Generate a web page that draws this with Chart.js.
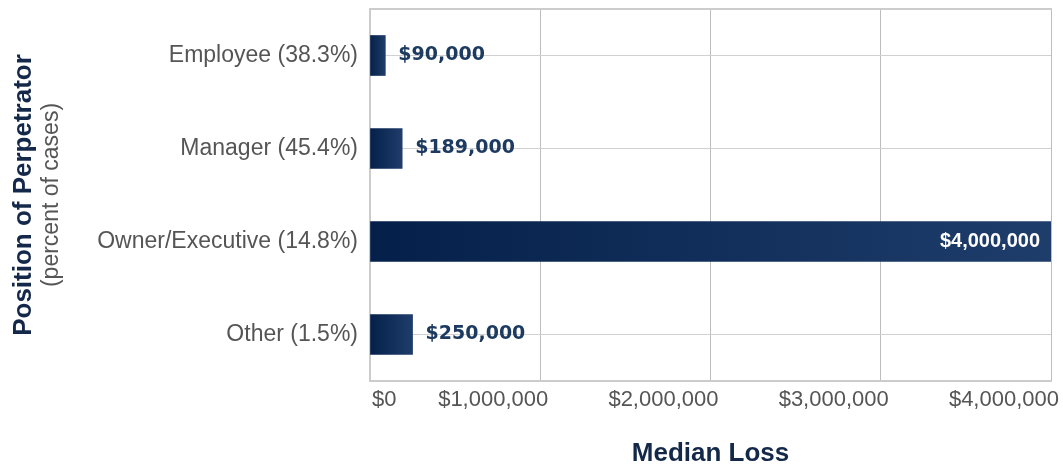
<!DOCTYPE html>
<html>
<head>
<meta charset="utf-8">
<script src="https://cdn.jsdelivr.net/npm/chart.js"></script>
<style>
  html, body { margin: 0; padding: 0; background: #fff; }
  #wrap { width: 1063px; height: 464px; position: relative; }
</style>
</head>
<body>
<div id="wrap"><canvas id="lossChart"></canvas></div>
<script>
// --- PODATKI ---
const categories = ['Employee (38.3%)', 'Manager (45.4%)', 'Owner/Executive (14.8%)', 'Other (1.5%)'];
const medianLoss = [90000, 189000, 4000000, 250000];
const xTickValues = [0, 1000000, 2000000, 3000000, 4000000];

const fmtMoney = v => '$' + Number(v).toLocaleString('en-US');

const NAVY = '#14294a';
const GRAY = '#555555';
const SANS = "'Liberation Sans', Arial, sans-serif";

// gradient od osnove stolpca do njegovega konca
function barGradient(ctx) {
    const chart = ctx.chart;
    if (!chart.chartArea || ctx.raw === undefined) return '#0f2c57';
    const xs = chart.scales.x;
    const x0 = xs.getPixelForValue(0);
    const x1 = Math.max(xs.getPixelForValue(ctx.raw), x0 + 1);
    const g = chart.ctx.createLinearGradient(x0, 0, x1, 0);
    g.addColorStop(0, '#04204a');
    g.addColorStop(1, '#1f3d6b');
    return g;
}

// prva oznaka na osi x ($0) je poravnana levo ob osi
const firstTickLeft = {
    id: 'firstTickLeft',
    beforeDraw(chart) {
        const xs = chart.scales.x;
        const items = xs.getLabelItems();
        if (items.length) {
            items[0].options.textAlign = 'left';
            items[0].options.translation = [xs.getPixelForValue(xTickValues[0]) + 2, items[0].options.translation[1]];
        }
    }
};

// oznake vrednosti ob stolpcih
const valueLabels = {
    id: 'valueLabels',
    afterDatasetsDraw(chart) {
        const c = chart.ctx;
        const meta = chart.getDatasetMeta(0);
        c.save();
        c.textBaseline = 'middle';
        meta.data.forEach((bar, i) => {
            const text = fmtMoney(medianLoss[i]);
            const w = bar.x - bar.base;
            if (w > 300) {
                c.font = "bold 20px 'Liberation Sans', Arial, sans-serif";
                c.fillStyle = '#ffffff';
                c.textAlign = 'right';
                c.fillText(text, bar.x - 11, bar.y);
            } else {
                c.font = "bold 19px 'DejaVu Sans', Verdana, sans-serif";
                c.fillStyle = '#1d3a60';
                c.textAlign = 'left';
                c.fillText(text, bar.x + 13, bar.y);
            }
        });
        c.restore();
    }
};

new Chart(document.getElementById('lossChart'), {
    type: 'bar',
    data: {
        labels: categories,
        datasets: [{
            data: medianLoss,
            backgroundColor: barGradient,
            borderWidth: 0,
            barThickness: 40
        }]
    },
    options: {
        indexAxis: 'y',
        responsive: true,
        maintainAspectRatio: false,
        animation: false,
        layout: { padding: { top: 9, right: 12, left: 0, bottom: 0 } },
        plugins: {
            legend: { display: false },
            tooltip: { enabled: false }
        },
        scales: {
            x: {
                type: 'linear',
                min: 0,
                max: 4000000,
                afterBuildTicks: s => { s.ticks = xTickValues.map(v => ({ value: v })); },
                afterFit: s => { s.height = 83; s.paddingLeft = 0; s.paddingRight = 0; },
                grid: { color: '#bdbdbd', lineWidth: 1, drawTicks: false },
                border: { display: true, color: '#cccccc', width: 2 },
                ticks: {
                    align: 'end',
                    labelOffset: 8,
                    padding: 6,
                    color: GRAY,
                    font: { family: SANS, size: 22 },
                    callback: v => fmtMoney(v)
                },
                title: {
                    display: true,
                    text: 'Median Loss',
                    color: NAVY,
                    font: { family: SANS, size: 26, weight: 'bold', lineHeight: 1.2 },
                    padding: { top: 0, bottom: -5 }
                }
            },
            xTop: {
                type: 'linear',
                position: 'top',
                min: 0,
                max: 4000000,
                afterFit: s => { s.height = 0; s.paddingLeft = 0; s.paddingRight = 0; },
                grid: { display: false, drawTicks: false },
                ticks: { display: false },
                border: { display: true, color: '#cccccc', width: 2 }
            },
            y: {
                type: 'category',
                position: 'left',
                weight: 0,
                afterFit: s => { s.width = 330; s.paddingTop = 0; s.paddingBottom = 0; },
                grid: { color: '#d0d0d0', offset: false, drawTicks: false },
                border: { display: true, color: '#cccccc', width: 2 },
                ticks: {
                    padding: 12,
                    color: GRAY,
                    font: { family: SANS, size: 23 }
                },
                title: {
                    display: true,
                    text: '(percent of cases)',
                    color: GRAY,
                    font: { family: SANS, size: 23, lineHeight: 1 },
                    padding: { top: 0, bottom: 0 }
                }
            },
            yTitle: {
                type: 'category',
                position: 'left',
                weight: 1,
                labels: categories,
                afterFit: s => { s.width = 40; s.paddingTop = 0; s.paddingBottom = 0; },
                grid: { display: false, drawTicks: false },
                ticks: { display: false },
                border: { display: false },
                title: {
                    display: true,
                    text: 'Position of Perpetrator',
                    color: NAVY,
                    font: { family: SANS, size: 26, weight: 'bold', lineHeight: 1.2 },
                    padding: { top: 8, bottom: 0 }
                }
            }
        }
    },
    plugins: [firstTickLeft, valueLabels]
});
</script>
</body>
</html>
